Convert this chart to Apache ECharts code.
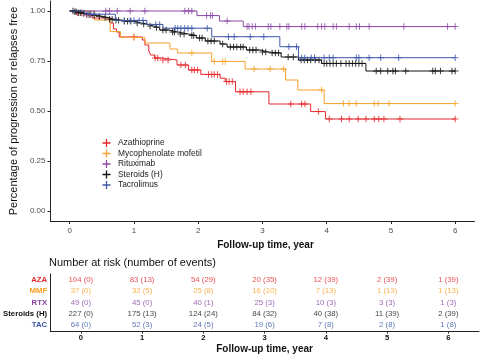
<!DOCTYPE html>
<html><head><meta charset="utf-8">
<script src="https://cdn.jsdelivr.net/npm/echarts@6/dist/echarts.min.js"></script>
<style>html,body{margin:0;padding:0;background:#fff}#c{width:480px;height:356px}</style>
</head><body><div id="c"></div>
<script>
// ---------- data ----------
const groups = ['Azathioprine', 'Mycophenolate mofetil', 'Rituximab', 'Steroids (H)', 'Tacrolimus'];
const groupAbbr = ['AZA', 'MMF', 'RTX', 'Steroids (H)', 'TAC'];
const colors = ['#E6262B', '#F7A02A', '#8A47A6', '#111111', '#3B57A7'];

const xTicks = [0, 1, 2, 3, 4, 5, 6];
const yTicks = [0, 0.25, 0.5, 0.75, 1];

// Kaplan-Meier step points (time, survival) and censor times
const azaT = [0, 0.09, 0.22, 0.35, 0.63, 0.68, 0.73, 0.77, 1.13, 1.17, 1.23, 1.26, 1.32, 1.42, 1.67, 1.85, 2.04, 2.34, 2.42, 2.58, 3.10, 3.75, 3.98, 6.0];
const azaS = [1, 0.99, 0.98, 0.965, 0.94, 0.91, 0.895, 0.87, 0.855, 0.83, 0.80, 0.78, 0.765, 0.755, 0.73, 0.705, 0.683, 0.664, 0.647, 0.596, 0.535, 0.497, 0.46, 0.46];
const azaCens = [0.12, 0.19, 0.26, 0.32, 1.00, 1.33, 1.37, 1.45, 1.53, 1.73, 1.80, 1.90, 1.94, 1.99, 2.16, 2.21, 2.25, 2.30, 2.44, 2.48, 2.53, 2.65, 2.70, 2.76, 2.82, 3.44, 3.61, 3.66, 3.87, 4.04, 4.23, 4.35, 4.49, 4.61, 4.74, 4.81, 4.89, 5.14, 6.0];

const mmfT = [0, 0.39, 0.63, 0.79, 1.17, 1.56, 1.68, 2.21, 2.73, 3.36, 3.55, 3.96, 6.0];
const mmfS = [1, 0.955, 0.897, 0.868, 0.84, 0.81, 0.79, 0.748, 0.71, 0.655, 0.605, 0.537, 0.537];
const mmfCens = [1.00, 1.90, 2.25, 2.38, 2.42, 2.87, 3.12, 3.33, 3.92, 4.26, 4.35, 4.46, 4.74, 4.80, 4.97, 6.0];

const rtxT = [0, 1.98, 2.33, 2.70, 6.0];
const rtxS = [1, 0.977, 0.95, 0.922, 0.922];
const rtxCens = [0.56, 0.62, 0.74, 0.94, 1.17, 1.79, 1.85, 1.90, 2.13, 2.19, 2.22, 2.45, 2.76, 2.79, 2.84, 2.89, 3.09, 3.13, 3.27, 3.38, 3.41, 3.61, 3.66, 3.86, 3.92, 3.97, 4.10, 4.15, 4.35, 4.46, 4.51, 4.66, 5.20, 5.88, 6.0];

const sterT = [0, 0.06, 0.12, 0.19, 0.26, 0.34, 0.43, 0.52, 0.59, 0.68, 0.80, 1.00, 1.11, 1.20, 1.30, 1.40, 1.54, 1.68, 1.85, 1.97, 2.11, 2.34, 2.45, 2.75, 2.96, 3.09, 3.29, 3.56, 3.92, 4.61, 6.0];
const sterS = [1, 0.996, 0.991, 0.987, 0.982, 0.978, 0.973, 0.968, 0.959, 0.954, 0.949, 0.94, 0.935, 0.925, 0.918, 0.905, 0.895, 0.885, 0.878, 0.865, 0.85, 0.835, 0.82, 0.805, 0.795, 0.79, 0.77, 0.755, 0.738, 0.70, 0.70];
const sterCens = [0.05, 0.08, 0.10, 0.14, 0.17, 0.22, 0.30, 0.38, 0.46, 0.55, 0.62, 0.66, 0.72, 0.76, 0.85, 0.90, 0.95, 1.05, 1.15, 1.25, 1.35, 1.45, 1.50, 1.60, 1.63, 1.72, 1.78, 1.90, 1.93, 2.02, 2.06, 2.15, 2.20, 2.25, 2.38, 2.50, 2.55, 2.60, 2.66, 2.70, 2.80, 2.85, 2.90, 3.00, 3.05, 3.15, 3.20, 3.25, 3.40, 3.48, 3.60, 3.65, 3.70, 3.75, 3.82, 3.88, 3.96, 4.00, 4.05, 4.10, 4.15, 4.22, 4.30, 4.35, 4.40, 4.45, 4.50, 4.55, 4.77, 4.84, 4.95, 5.03, 5.07, 5.23, 5.65, 5.69, 5.77, 5.95, 6.0];

const tacT = [0, 0.23, 0.71, 1.20, 1.45, 2.21, 3.27, 3.56, 6.0];
const tacS = [1, 0.984, 0.953, 0.933, 0.914, 0.8715, 0.8215, 0.7665, 0.7665];
const tacCens = [0.27, 0.33, 0.38, 0.85, 0.94, 1.00, 1.08, 1.14, 1.34, 1.40, 1.64, 1.68, 1.73, 1.79, 1.84, 1.90, 2.14, 2.47, 2.56, 2.81, 3.02, 3.41, 3.53, 3.61, 3.66, 3.76, 3.81, 3.96, 4.04, 4.10, 4.46, 4.50, 4.66, 4.84, 5.12, 6.0];

// Number at risk (number of events)
const riskTimes = [0, 1, 2, 3, 4, 5, 6];
const azaRisk = [104, 83, 54, 20, 12, 2, 1];
const azaEv = [0, 13, 29, 35, 39, 39, 39];
const mmfRisk = [37, 32, 25, 16, 7, 1, 1];
const mmfEv = [0, 5, 8, 10, 13, 13, 13];
const rtxRisk = [49, 45, 40, 25, 10, 3, 1];
const rtxEv = [0, 0, 1, 3, 3, 3, 3];
const sterRisk = [227, 175, 124, 84, 40, 11, 2];
const sterEv = [0, 13, 24, 32, 38, 39, 39];
const tacRisk = [64, 52, 24, 19, 7, 2, 1];
const tacEv = [0, 3, 5, 6, 8, 8, 8];

// ---------- build ----------
const curves = [[azaT, azaS, azaCens], [mmfT, mmfS, mmfCens], [rtxT, rtxS, rtxCens], [sterT, sterS, sterCens], [tacT, tacS, tacCens]];
const risks = [[azaRisk, azaEv], [mmfRisk, mmfEv], [rtxRisk, rtxEv], [sterRisk, sterEv], [tacRisk, tacEv]];

function survAt(T, S, t) { let v = S[0]; for (let i = 0; i < T.length; i++) { if (T[i] <= t + 1e-9) v = S[i]; } return v; }

const FONT = 'Liberation Sans, Arial, Helvetica, sans-serif';
const PLUS = 'path://M0,4.2H10V5.8H0Z M4.2,0H5.8V10H4.2Z';
const AXC = '#222';

const series = [];
curves.forEach((c, i) => {
  series.push({
    name: groups[i], type: 'line', step: 'end', showSymbol: false, symbol: 'none',
    xAxisIndex: 0, yAxisIndex: 0, silent: true, animation: false,
    lineStyle: { width: 1, color: colors[i] }, itemStyle: { color: colors[i] },
    data: c[0].map((t, k) => [t, c[1][k]]), z: 2 + i
  });
});
curves.forEach((c, i) => {
  series.push({
    name: groups[i] + '_cens', type: 'scatter', symbol: PLUS, symbolSize: 6.5,
    xAxisIndex: 0, yAxisIndex: 0, silent: true, animation: false,
    itemStyle: { color: colors[i] },
    data: c[2].map(t => [t, survAt(c[0], c[1], t)]), z: 2 + i
  });
});
risks.forEach((r, i) => {
  series.push({
    name: groupAbbr[i] + '_risk', type: 'scatter', symbolSize: 1,
    xAxisIndex: 1, yAxisIndex: 1, silent: true, animation: false,
    itemStyle: { color: 'transparent' },
    label: {
      show: true, position: 'inside', color: colors[i], fontSize: 7.8, fontFamily: FONT,
      formatter: p => p.data[2]
    },
    data: riskTimes.map((t, k) => [t, groupAbbr[i], r[0][k] + ' (' + r[1][k] + ')'])
  });
});

const option = {
  animation: false,
  backgroundColor: '#fff',
  textStyle: { fontFamily: FONT },
  title: {
    text: 'Number at risk (number of events)', left: 44, top: 252,
    textStyle: { fontSize: 11, fontWeight: 'normal', color: '#111', fontFamily: FONT }
  },
  legend: {
    orient: 'vertical', left: 102.5, top: 138.5, itemWidth: 9, itemHeight: 8, itemGap: 1.5,
    padding: 0,
    textStyle: { fontSize: 8.4, color: '#222', fontFamily: FONT, lineHeight: 9, padding: [0, 0, 0, 2] },
    data: groups.map(g => ({ name: g, icon: PLUS })),
    selectedMode: false
  },
  grid: [
    { left: 46.5, width: 428, top: 1, height: 220 },
    { left: 46, width: 433, top: 274, height: 57 }
  ],
  xAxis: [
    {
      gridIndex: 0, type: 'value', min: -0.3, max: 6.3,
      name: 'Follow-up time, year', nameLocation: 'middle', nameGap: 17,
      nameTextStyle: { fontSize: 10, fontWeight: 'bold', color: '#111', fontFamily: FONT, padding: [0, 0, 0, 6] },
      axisLine: { show: true, onZero: false, lineStyle: { color: AXC, width: 1 } },
      axisTick: { show: true, length: 3, customValues: xTicks, lineStyle: { color: AXC } },
      axisLabel: { customValues: xTicks, margin: 6, fontSize: 8, color: '#4d4d4d', fontFamily: FONT },
      splitLine: { show: false }
    },
    {
      gridIndex: 1, type: 'value', min: -0.5, max: 6.5,
      name: 'Follow-up time, year', nameLocation: 'middle', nameGap: 13,
      nameTextStyle: { fontSize: 10, fontWeight: 'bold', color: '#111', fontFamily: FONT },
      axisLine: { show: true, onZero: false, lineStyle: { color: AXC, width: 1 } },
      axisTick: { show: true, length: 2.5, customValues: xTicks, lineStyle: { color: AXC } },
      axisLabel: { customValues: xTicks, margin: 3, fontSize: 7.6, fontWeight: 'bold', color: '#111', fontFamily: FONT },
      splitLine: { show: false }
    }
  ],
  yAxis: [
    {
      gridIndex: 0, type: 'value', min: -0.05, max: 1.05,
      name: 'Percentage of progression or relapses free', nameLocation: 'middle', nameGap: 31,
      nameTextStyle: { fontSize: 11, color: '#111', fontFamily: FONT },
      axisLine: { show: true, onZero: false, lineStyle: { color: AXC, width: 1 } },
      axisTick: { show: true, length: 3, customValues: yTicks, lineStyle: { color: AXC } },
      axisLabel: { customValues: yTicks, margin: 5, fontSize: 8, color: '#4d4d4d', fontFamily: FONT, formatter: v => v.toFixed(2) },
      splitLine: { show: false }
    },
    {
      gridIndex: 1, type: 'category', inverse: true, data: groupAbbr,
      axisLine: { show: true, onZero: false, lineStyle: { color: AXC, width: 1 } },
      axisTick: { show: false },
      axisLabel: {
        margin: 3, fontSize: 7.8, fontWeight: 'bold', fontFamily: FONT,
        formatter: v => '{' + ['a', 'b', 'c', 'd', 'e'][groupAbbr.indexOf(v)] + '|' + v + '}',
        rich: {
          a: { color: colors[0], fontWeight: 'bold', fontSize: 7.8 },
          b: { color: colors[1], fontWeight: 'bold', fontSize: 7.8 },
          c: { color: colors[2], fontWeight: 'bold', fontSize: 7.8 },
          d: { color: '#111', fontWeight: 'bold', fontSize: 7.8 },
          e: { color: colors[4], fontWeight: 'bold', fontSize: 7.8 }
        }
      },
      splitLine: { show: false }
    }
  ],
  series: series
};

const chart = echarts.init(document.getElementById('c'), null, { renderer: 'canvas' });
chart.setOption(option);
</script>
</body></html>
